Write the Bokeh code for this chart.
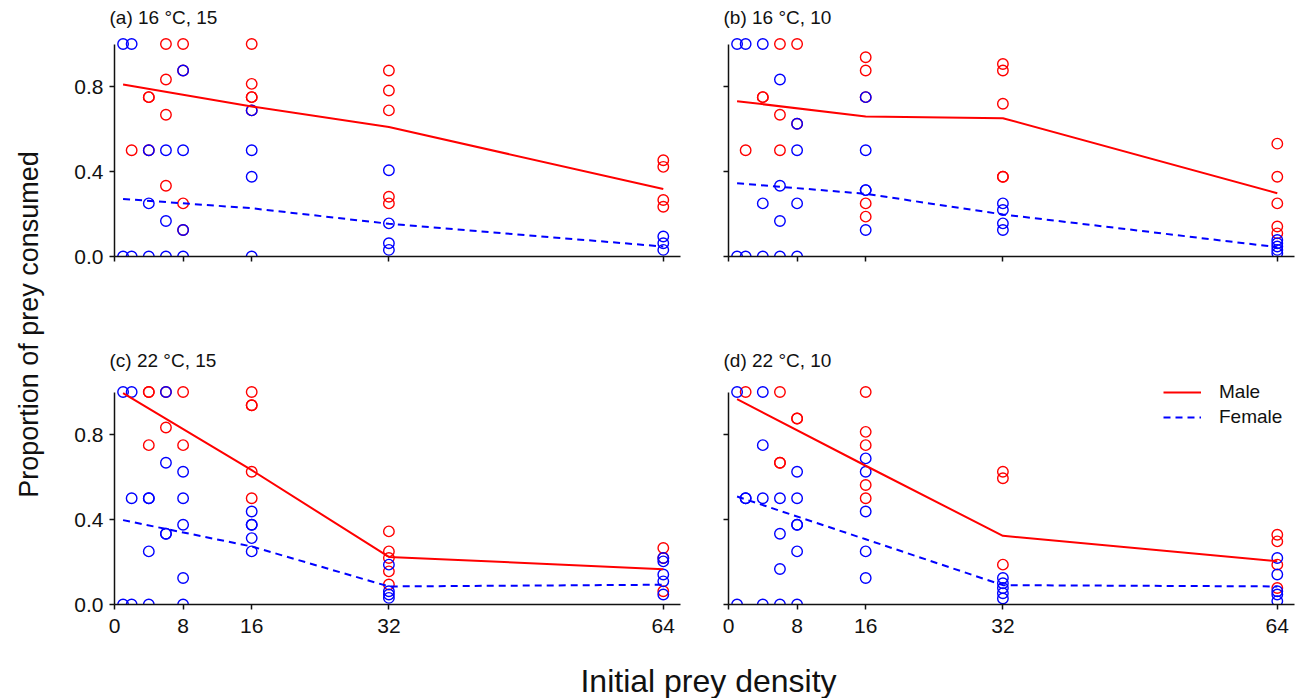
import math
from bokeh.plotting import figure
from bokeh.layouts import row, column
from bokeh.models import Range1d, FixedTicker, CustomJSTickFormatter, PrintfTickFormatter
from bokeh.core.properties import value
from bokeh.embed import file_html
from bokeh.resources import INLINE

FONT = "Liberation Sans"
RED = "#FF0000"
BLUE = "#0000FF"

x_ticks = [0, 8, 16, 32, 64]
y_ticks = [0, 0.4, 0.8]
fit_x = [1, 16, 32, 64]

# ---- panel (a) 16 °C, 15 ----
a_title = "(a) 16 °C, 15"
a_male_x = [2, 4, 4, 4, 6, 6, 6, 6, 8, 8, 8, 8, 16, 16, 16, 16, 16, 32, 32, 32, 32, 32, 64, 64, 64, 64]
a_male_y = [0.5, 0.75, 0.75, 0.5, 1.0, 0.833, 0.667, 0.333, 1.0, 0.875, 0.25, 0.125,
            1.0, 0.8125, 0.75, 0.75, 0.6875, 0.875, 0.781, 0.6875, 0.281, 0.25,
            0.453, 0.422, 0.266, 0.234]
a_female_x = [1, 1, 2, 2, 4, 4, 4, 6, 6, 6, 8, 8, 8, 8, 16, 16, 16, 16, 32, 32, 32, 32, 64, 64, 64]
a_female_y = [1.0, 0, 1.0, 0, 0.5, 0.25, 0, 0.5, 0.167, 0, 0.875, 0.5, 0.125, 0,
              0.6875, 0.5, 0.375, 0, 0.406, 0.156, 0.0625, 0.031, 0.094, 0.0625, 0.031]
a_male_fit = [0.809, 0.706, 0.609, 0.318]
a_female_fit = [0.271, 0.227, 0.154, 0.047]

# ---- panel (b) 16 °C, 10 ----
b_title = "(b) 16 °C, 10"
b_male_x = [2, 4, 4, 6, 6, 6, 8, 8, 16, 16, 16, 16, 16, 32, 32, 32, 32, 32, 64, 64, 64, 64, 64]
b_male_y = [0.5, 0.75, 0.75, 1.0, 0.667, 0.5, 1.0, 0.625, 0.9375, 0.875, 0.75, 0.25, 0.1875,
            0.906, 0.875, 0.719, 0.375, 0.375, 0.531, 0.375, 0.25, 0.141, 0.109]
b_female_x = [1, 1, 2, 2, 4, 4, 4, 6, 6, 6, 6, 8, 8, 8, 8, 16, 16, 16, 16, 16,
              32, 32, 32, 32, 64, 64, 64, 64, 64]
b_female_y = [1.0, 0, 1.0, 0, 1.0, 0.25, 0, 0.833, 0.333, 0.167, 0, 0.625, 0.5, 0.25, 0,
              0.75, 0.5, 0.3125, 0.3125, 0.125, 0.25, 0.219, 0.156, 0.125,
              0.078, 0.0625, 0.047, 0.031, 0.016]
b_male_fit = [0.731, 0.659, 0.651, 0.298]
b_female_fit = [0.345, 0.295, 0.198, 0.044]

# ---- panel (c) 22 °C, 15 ----
c_title = "(c) 22 °C, 15"
c_male_x = [4, 4, 4, 6, 6, 8, 8, 16, 16, 16, 16, 16, 32, 32, 32, 32, 32, 64, 64, 64]
c_male_y = [1.0, 1.0, 0.75, 1.0, 0.833, 1.0, 0.75, 1.0, 0.9375, 0.9375, 0.625, 0.5,
            0.344, 0.25, 0.219, 0.156, 0.094, 0.266, 0.219, 0.0625]
c_female_x = [1, 1, 2, 2, 2, 4, 4, 4, 4, 6, 6, 6, 6, 8, 8, 8, 8, 8, 16, 16, 16, 16, 16,
              32, 32, 32, 32, 64, 64, 64, 64, 64]
c_female_y = [1.0, 0, 1.0, 0.5, 0, 0.5, 0.5, 0.25, 0, 1.0, 0.667, 0.333, 0.333,
              0.625, 0.5, 0.375, 0.125, 0, 0.4375, 0.375, 0.375, 0.3125, 0.25,
              0.1875, 0.0625, 0.047, 0.031, 0.219, 0.203, 0.141, 0.109, 0.047]
c_male_fit = [0.995, 0.632, 0.224, 0.166]
c_female_fit = [0.397, 0.273, 0.085, 0.093]

# ---- panel (d) 22 °C, 10 ----
d_title = "(d) 22 °C, 10"
d_male_x = [2, 6, 6, 6, 8, 8, 16, 16, 16, 16, 16, 32, 32, 32, 64, 64, 64, 64]
d_male_y = [1.0, 1.0, 0.667, 0.667, 0.875, 0.875, 1.0, 0.8125, 0.75, 0.5625, 0.5,
            0.625, 0.594, 0.1875, 0.328, 0.297, 0.1875, 0.078]
d_female_x = [1, 1, 2, 2, 4, 4, 4, 4, 6, 6, 6, 6, 8, 8, 8, 8, 8, 8, 16, 16, 16, 16, 16,
              32, 32, 32, 32, 32, 64, 64, 64, 64, 64]
d_female_y = [1.0, 0, 0.5, 0.5, 1.0, 0.75, 0.5, 0, 0.5, 0.333, 0.167, 0,
              0.625, 0.5, 0.375, 0.375, 0.25, 0, 0.6875, 0.625, 0.4375, 0.25, 0.125,
              0.125, 0.1, 0.078, 0.053, 0.028, 0.219, 0.141, 0.0625, 0.047, 0.016]
d_male_fit = [0.966, 0.653, 0.323, 0.204]
d_female_fit = [0.508, 0.307, 0.091, 0.085]

y_label = "Proportion of prey consumed"
x_label = "Initial prey density"
legend_labels = ["Male", "Female"]

FRAME_W = 568
FRAME_H = 225
X_END = 66.24
Y_END = 225 / 212.5


def panel(title, mx, my, fx, fy, mfit, ffit, left, right, top, bottom,
          xlabels, ylabels, title_standoff, legend=False):
    p = figure(width=left + FRAME_W + right, height=top + FRAME_H + bottom,
               x_range=Range1d(0, X_END), y_range=Range1d(0, Y_END),
               output_backend="svg", toolbar_location=None,
               min_border_left=left, min_border_right=right,
               min_border_top=top, min_border_bottom=bottom,
               title=title)
    p.outline_line_color = None
    p.xgrid.visible = False
    p.ygrid.visible = False
    p.background_fill_color = None
    p.border_fill_color = None
    p.title.text_font = FONT
    p.title.text_font_size = "19px"
    p.title.text_font_style = "normal"
    p.title.align = "left"
    p.title.offset = -5
    p.title.standoff = title_standoff
    p.title.text_color = "#111111"

    for ax in (p.xaxis, p.yaxis):
        ax.axis_line_width = 1.5
        ax.axis_line_color = "#111111"
        ax.major_tick_line_width = 1.5
        ax.major_tick_line_color = "#111111"
        ax.major_tick_in = 0
        ax.major_tick_out = 5
        ax.minor_tick_out = 0
        ax.minor_tick_in = 0
        ax.major_label_text_font = FONT
        ax.major_label_text_font_size = "21px"
        ax.major_label_text_color = "#111111"
    p.xaxis.ticker = FixedTicker(ticks=x_ticks)
    p.yaxis.ticker = FixedTicker(ticks=y_ticks)
    p.xaxis.bounds = (0, 66)
    p.yaxis.bounds = (0, 1)
    p.xaxis.major_label_standoff = 9
    p.yaxis.major_label_standoff = 6
    if ylabels:
        p.yaxis.formatter = PrintfTickFormatter(format="%.1f")
    else:
        p.yaxis.formatter = CustomJSTickFormatter(code="return ''")
    if not xlabels:
        p.xaxis.formatter = CustomJSTickFormatter(code="return ''")

    p.scatter(mx, my, marker="circle", size=10.5, fill_color=None,
              line_color=RED, line_width=1.4)
    p.scatter(fx, fy, marker="circle", size=10.5, fill_color=None,
              line_color=BLUE, line_width=1.4)
    if legend:
        p.line(fit_x, mfit, line_color=RED, line_width=2, legend_label=legend_labels[0])
        p.line(fit_x, ffit, line_color=BLUE, line_width=2, line_dash="7 5",
               legend_label=legend_labels[1])
        lg = p.legend[0]
        lg.location = (435, 176)
        lg.glyph_width = 38
        lg.glyph_height = 22
        lg.label_height = 22
        lg.spacing = 3
        lg.padding = 0
        lg.margin = 0
        lg.label_standoff = 18
        lg.border_line_color = None
        lg.background_fill_alpha = 0
        lg.label_text_font = FONT
        lg.label_text_font_size = "19px"
        lg.label_text_color = "#111111"
    else:
        p.line(fit_x, mfit, line_color=RED, line_width=2)
        p.line(fit_x, ffit, line_color=BLUE, line_width=2, line_dash="7 5")
    return p


TOP_H_BORDERS = (31, 81)
BOT_H_BORDERS = (42, 36)

pa = panel(a_title, a_male_x, a_male_y, a_female_x, a_female_y, a_male_fit, a_female_fit,
           46, 6, TOP_H_BORDERS[0], TOP_H_BORDERS[1], False, True, 7)
pb = panel(b_title, b_male_x, b_male_y, b_female_x, b_female_y, b_male_fit, b_female_fit,
           40, 8, TOP_H_BORDERS[0], TOP_H_BORDERS[1], False, False, 7)
pc = panel(c_title, c_male_x, c_male_y, c_female_x, c_female_y, c_male_fit, c_female_fit,
           46, 6, BOT_H_BORDERS[0], BOT_H_BORDERS[1], True, True, 18)
pd_ = panel(d_title, d_male_x, d_male_y, d_female_x, d_female_y, d_male_fit, d_female_fit,
            40, 8, BOT_H_BORDERS[0], BOT_H_BORDERS[1], True, False, 18, legend=True)

grid_h = pa.height + pc.height

# y-axis label strip
yl = figure(width=68, height=grid_h, x_range=Range1d(0, 68), y_range=Range1d(0, grid_h),
            output_backend="svg", toolbar_location=None, x_axis_type=None, y_axis_type=None,
            min_border=0)
yl.outline_line_color = None
yl.background_fill_color = None
yl.border_fill_color = None
yl.text(x=[28], y=[grid_h - 324], text=[y_label], angle=math.pi / 2, text_align="center",
        text_baseline="middle", text_font=value(FONT), text_font_size="27px",
        text_color="#111111")

# x-axis label strip
xl_h = 698 - grid_h
xl = figure(width=1304, height=xl_h, x_range=Range1d(0, 1304), y_range=Range1d(0, xl_h),
            output_backend="svg", toolbar_location=None, x_axis_type=None, y_axis_type=None,
            min_border=0)
xl.outline_line_color = None
xl.background_fill_color = None
xl.border_fill_color = None
xl.text(x=[708], y=[18], text=[x_label], text_align="center", text_baseline="middle",
        text_font=value(FONT), text_font_size="32px", text_color="#111111")

layout = column(row(yl, column(row(pa, pb), row(pc, pd_))), xl)

open("out.html", "w").write(file_html(layout, INLINE))
